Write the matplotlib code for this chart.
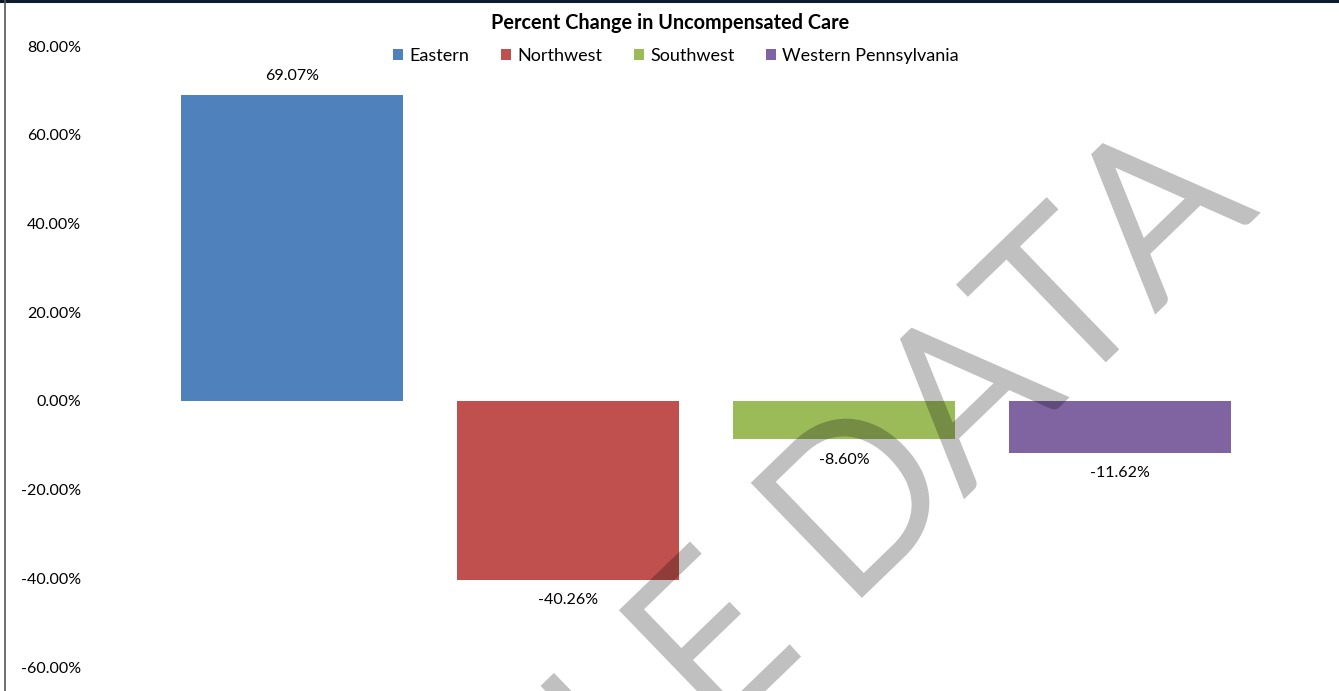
import matplotlib
matplotlib.use("Agg")
import matplotlib.pyplot as plt
from matplotlib.lines import Line2D
import matplotlib.patheffects as pe

# データ
regions = ["Eastern", "Northwest", "Southwest", "Western Pennsylvania"]
changes = [69.07, -40.26, -8.60, -11.62]
colors = ["#4f81bd", "#c0504d", "#9bbb59", "#8064a2"]
yticks = [-60, -40, -20, 0, 20, 40, 60, 80]

plt.rcParams["font.family"] = ["Lato", "DejaVu Sans"]

W, H = 1339, 691
fig = plt.figure(figsize=(W / 100, H / 100), dpi=100)
fig.patch.set_facecolor("white")

# プロット領域 (0% が y=401px, 20% = 88.75px)
px_per_pct = 88.75 / 20
y_bottom = -(H - 401) / px_per_pct
y_top = 401 / px_per_pct
left_px = 90
ax = fig.add_axes([left_px / W, 0, 1 - left_px / W, 1])
ax.set_ylim(y_bottom, y_top)
x_left = (left_px - 292) / 276
x_right = (W - 292) / 276
ax.set_xlim(x_left, x_right)

bars = []
for i, (name, val, c) in enumerate(zip(regions, changes, colors)):
    b = ax.bar(i, val, width=222 / 276, color=c, label=name)
    bars.append(b)
    off = 13 if val >= 0 else -15
    ax.annotate(f"{val:.2f}%", (i, val), xytext=(0, off), textcoords="offset points",
                ha="center", va="center", fontsize=11.5, color="black")

ax.set_yticks(yticks)
ax.set_yticklabels([f"{v:.2f}%" for v in yticks], fontsize=11.5)
ax.tick_params(axis="y", length=0, pad=6.5)
ax.set_xticks([])
for s in ax.spines.values():
    s.set_visible(False)
ax.patch.set_alpha(0)

fig.text(670 / W, 1 - 23 / H, "Percent Change in Uncompensated Care",
         ha="center", va="center", fontsize=14.3, fontweight="bold")

fig.legend(handles=[b[0] for b in bars], labels=regions, ncol=4,
           loc="center", bbox_to_anchor=(676 / W, 1 - 56 / H), frameon=False,
           fontsize=13, handlelength=0.55, handleheight=0.55, handletextpad=0.35,
           columnspacing=1.75, borderpad=0)


def fade(img, dpi):
    """透かしを一様な濃さにする (重なりで濃くならないように)"""
    out = img.copy()
    out[..., 3] = img[..., 3] * 0.25
    return out, 0, 0


# 透かし
wm = fig.text(1256 / W, 1 - 212 / H, "SAMPLE DATA", rotation=44, rotation_mode="anchor",
              ha="right", va="baseline", fontsize=155, fontweight=300,
              color="black", zorder=10,
              path_effects=[pe.withStroke(linewidth=5.5, foreground="black",
                                          joinstyle="miter")])
wm.set_agg_filter(fade)

# 枠線
fig.add_artist(Line2D([0, 1], [1 - 1 / H, 1 - 1 / H], color="#0d1b2e", lw=2.2,
                      transform=fig.transFigure))
fig.add_artist(Line2D([4.5 / W, 4.5 / W], [0, 1], color="#555555", lw=1.2,
                      transform=fig.transFigure))

fig.savefig("out.png", dpi=100)
